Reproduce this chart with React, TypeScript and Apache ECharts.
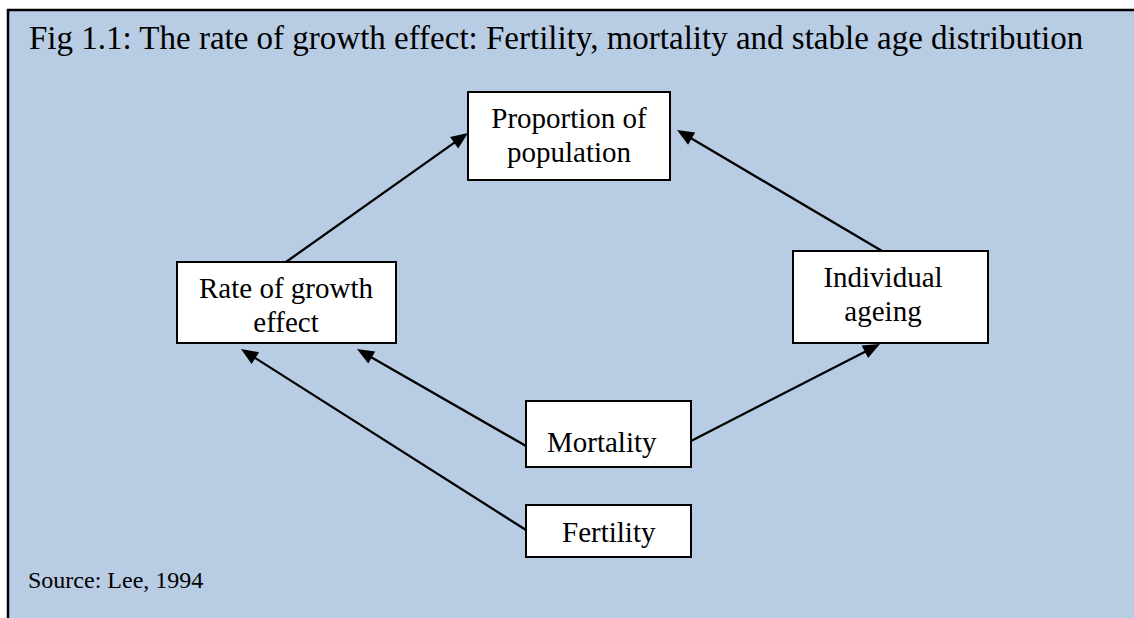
import React, { useEffect, useRef } from "react";
import * as echarts from "echarts";

// ---- content ----
const TITLE = "Fig 1.1: The rate of growth effect: Fertility, mortality and stable age distribution";
const SOURCE = "Source: Lee, 1994";
const nodeLines: string[][] = [
  ["Proportion of", "population"],
  ["Rate of growth", "effect"],
  ["Individual", "ageing"],
  ["Mortality"],
  ["Fertility"],
];
// links: [from, to]
const links: number[][] = [
  [1, 0],
  [2, 0],
  [3, 1],
  [4, 1],
  [3, 2],
];

// ---- layout (pixels) ----
const boxRects: number[][] = [
  [468, 92, 202, 88],
  [177, 262, 219, 81],
  [793, 251, 195, 92],
  [526, 401, 165, 66],
  [526, 505, 165, 52],
];
const textAnchors: [number, number, string][] = [
  [569, 128, "center"],
  [286, 298, "center"],
  [883, 287, "center"],
  [547, 452, "left"],
  [562, 542, "left"],
];
// per link: start point, tip point
const linkAnchors: number[][][] = [
  [[286, 262], [468, 133]],
  [[882, 251], [677, 130]],
  [[526, 446], [357, 349]],
  [[526, 530], [241, 349]],
  [[691, 441], [880, 344]],
];

const FONT = "Liberation Serif";
const BG = "#B8CCE4";
const LINE_H = 34;
const BOX_FS = 29;

function textAt(x: number, baseline: number, text: string, fs: number, align: string) {
  return {
    type: "text",
    x,
    y: baseline - 0.3375 * fs,
    style: {
      text,
      fontSize: fs,
      fontFamily: FONT,
      fontWeight: "normal",
      fill: "#000",
      align,
      verticalAlign: "middle",
    },
    z: 10,
  };
}

export default function App() {
  const ref = useRef<HTMLDivElement>(null);
  useEffect(() => {
    document.body.style.margin = "0";
    const chart = echarts.init(ref.current!, undefined, { renderer: "svg" });
    const els: any[] = [];
    // page white + blue panel
    els.push({ type: "rect", shape: { x: 0, y: 0, width: 1134, height: 618 }, style: { fill: "#fff" }, z: 0 });
    els.push({ type: "rect", shape: { x: 8, y: 10, width: 1126, height: 608 }, style: { fill: BG }, z: 1 });
    els.push({ type: "line", shape: { x1: 7, y1: 10, x2: 1134, y2: 10 }, style: { stroke: "#000", lineWidth: 2.5 }, z: 2 });
    els.push({ type: "line", shape: { x1: 8, y1: 9, x2: 8, y2: 618 }, style: { stroke: "#000", lineWidth: 2.5 }, z: 2 });

    els.push(textAt(29, 49, TITLE, 33, "left"));
    els.push(textAt(28, 588, SOURCE, 24, "left"));

    boxRects.forEach((b, i) => {
      els.push({
        type: "rect",
        shape: { x: b[0], y: b[1], width: b[2], height: b[3] },
        style: { fill: "#fff", stroke: "#000", lineWidth: 2 },
        z: 5,
      });
      const [tx, tb, al] = textAnchors[i];
      nodeLines[i].forEach((ln, k) => {
        els.push(textAt(tx, tb + k * LINE_H, ln, BOX_FS, al));
      });
    });

    links.forEach((lk, i) => {
      const [s, t] = linkAnchors[i];
      const dx = t[0] - s[0];
      const dy = t[1] - s[1];
      const len = Math.sqrt(dx * dx + dy * dy);
      const ux = dx / len;
      const uy = dy / len;
      const nx = -uy;
      const ny = ux;
      const L = 17;
      const W = 7;
      const bx = t[0] - ux * L;
      const by = t[1] - uy * L;
      els.push({
        type: "line",
        shape: { x1: s[0], y1: s[1], x2: t[0] - ux * L * 0.7, y2: t[1] - uy * L * 0.7 },
        style: { stroke: "#000", lineWidth: 2.3 },
        z: 6,
      });
      els.push({
        type: "polygon",
        shape: { points: [[t[0], t[1]], [bx + nx * W, by + ny * W], [bx - nx * W, by - ny * W]] },
        style: { fill: "#000" },
        z: 6,
      });
    });

    chart.setOption({ animation: false, graphic: { elements: els } });
    return () => chart.dispose();
  }, []);
  return <div ref={ref} style={{ width: 1134, height: 618 }} />;
}
